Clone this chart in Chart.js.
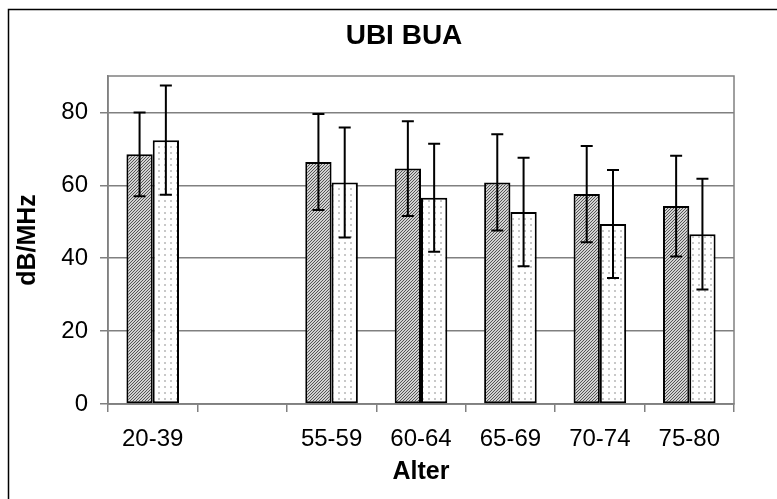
<!DOCTYPE html>
<html>
<head>
<meta charset="utf-8">
<script src="https://cdn.jsdelivr.net/npm/chart.js@4"></script>
<style>
  html, body { margin: 0; padding: 0; background: #fff; }
  #wrap { width: 777px; height: 499px; }
</style>
</head>
<body>
<div id="wrap"><canvas id="c" width="777" height="499"></canvas></div>
<script>
// ---- data ----
const categories = ['20-39', '', '55-59', '60-64', '65-69', '70-74', '75-80'];
const seriesA = [68.5, null, 66.4, 64.6, 60.8, 57.6, 54.3];
const errorsA = [11.5, null, 13.2, 13.0, 13.2, 13.2, 13.8];
const seriesB = [72.4, null, 60.8, 56.6, 52.7, 49.4, 46.6];
const errorsB = [15.0, null, 15.1, 14.8, 14.9, 14.8, 15.2];
const yTicks = [0, 20, 40, 60, 80];
const chartTitle = 'UBI BUA';
const xTitle = 'Alter';
const yTitle = 'dB/MHz';

// ---- fill patterns ----
function makePattern(size, draw) {
  const cv = document.createElement('canvas');
  cv.width = size; cv.height = size;
  const g = cv.getContext('2d');
  draw(g, size);
  return g.createPattern(cv, 'repeat');
}
const ctx = document.getElementById('c').getContext('2d');
const hatch = makePattern(3, (g, s) => {
  g.fillStyle = '#d2d2d2'; g.fillRect(0, 0, s, s);
  g.fillStyle = '#555555';
  for (let i = 0; i < s; i++) g.fillRect(i, s - 1 - i, 1, 1);
});
const dots = makePattern(6, (g, s) => {
  g.fillStyle = '#ffffff'; g.fillRect(0, 0, s, s);
  g.fillStyle = '#c8c8c8'; g.fillRect(2, 2, 2, 2);
});

const errorMap = [errorsA, errorsB];

const bgPlugin = {
  id: 'bg',
  beforeDraw(chart) {
    const c = chart.ctx;
    c.save();
    c.fillStyle = '#fff';
    c.fillRect(0, 0, chart.width, chart.height);
    c.strokeStyle = '#000';
    c.lineWidth = 1.5;
    c.beginPath();
    c.moveTo(8.5, chart.height);
    c.lineTo(8.5, 9.5);
    c.lineTo(chart.width, 9.5);
    c.stroke();
    c.restore();
  },
  beforeDatasetsDraw(chart) {
    const a = chart.chartArea, c = chart.ctx;
    c.save();
    c.strokeStyle = '#808080';
    c.lineWidth = 1.5;
    c.strokeRect(a.left, a.top, a.right - a.left, a.bottom - a.top);
    c.restore();
  }
};

const errorBarPlugin = {
  id: 'errbars',
  afterDatasetsDraw(chart) {
    const c = chart.ctx, ys = chart.scales.y;
    c.save();
    c.strokeStyle = '#000';
    c.lineWidth = 2;
    chart.data.datasets.forEach((ds, di) => {
      const meta = chart.getDatasetMeta(di);
      meta.data.forEach((el, i) => {
        const v = ds.data[i], e = errorMap[di][i];
        if (v == null || e == null) return;
        const x = el.x;
        const yt = ys.getPixelForValue(v + e);
        const yb = ys.getPixelForValue(v - e);
        c.beginPath();
        c.moveTo(x, yt); c.lineTo(x, yb);
        c.moveTo(x - 6, yt); c.lineTo(x + 6, yt);
        c.moveTo(x - 6, yb); c.lineTo(x + 6, yb);
        c.stroke();
      });
    });
    c.restore();
  }
};

Chart.defaults.font.family = "'Liberation Sans', Arial, sans-serif";
Chart.defaults.color = '#000';

new Chart(ctx, {
  type: 'bar',
  data: {
    labels: categories,
    datasets: [
      { data: seriesA, backgroundColor: hatch, borderColor: '#000', borderWidth: 2, borderSkipped: false },
      { data: seriesB, backgroundColor: dots, borderColor: '#000', borderWidth: 2, borderSkipped: false }
    ]
  },
  options: {
    responsive: false,
    animation: false,
    devicePixelRatio: 1,
    layout: { padding: { left: 8, top: 9, right: -23, bottom: 0 } },
    datasets: { bar: { barPercentage: 1.0, categoryPercentage: 0.588 } },
    plugins: {
      legend: { display: false },
      tooltip: { enabled: false },
      title: {
        display: true, text: chartTitle, color: '#000',
        font: { size: 28, weight: 'bold' },
        padding: { top: 10.5, bottom: 22.9 }
      }
    },
    scales: {
      x: {
        grid: { display: true, drawOnChartArea: false, drawTicks: true, tickLength: 8, color: '#808080', offset: true, lineWidth: 1.5 },
        border: { display: true, color: '#808080', width: 1.5 },
        ticks: { font: { size: 24 }, padding: 13, maxRotation: 0, autoSkip: false },
        title: { display: true, text: xTitle, font: { size: 25, weight: 'bold' }, padding: { top: 0, bottom: 12 } },
        afterFit(s) { s.height = 95; }
      },
      y: {
        min: 0, max: 90,
        afterBuildTicks(s) { s.ticks = yTicks.map(v => ({ value: v })); },
        grid: { color: '#808080', lineWidth: 1.5, drawTicks: true, tickLength: 8 },
        border: { display: true, color: '#808080', width: 1.5 },
        ticks: { font: { size: 24 }, padding: 12 },
        title: { display: true, text: yTitle, font: { size: 25, weight: 'bold' }, padding: { top: 5, bottom: 0 } },
        afterFit(s) { s.width = 100; }
      },
      y2: {
        type: 'linear', position: 'right', display: true,
        grid: { display: false }, border: { display: false },
        ticks: { display: false },
        afterFit(s) { s.width = 66; }
      }
    }
  },
  plugins: [bgPlugin, errorBarPlugin]
});
</script>
</body>
</html>
